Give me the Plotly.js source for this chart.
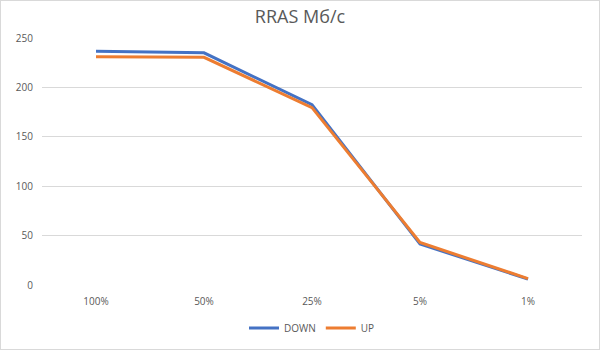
<!DOCTYPE html>
<html><head><meta charset="utf-8">
<script src="https://cdn.plot.ly/plotly-3.0.1.min.js"></script>
<style>html,body{margin:0;padding:0;background:#fff}#c{width:598px;height:348px;border:1px solid #d9d9d9}</style>
</head><body><div id="c"></div>
<script>
const categories = ["100%", "50%", "25%", "5%", "1%"];
const down = [236.5, 235, 182.5, 41.5, 6];
const up = [231, 230.5, 179.5, 43, 6.5];
const yTicks = [0, 50, 100, 150, 200, 250];

const traces = [
  {x: categories, y: down, name: "DOWN", type: "scatter", mode: "lines", line: {color: "#4472C4", width: 3}},
  {x: categories, y: up, name: "UP", type: "scatter", mode: "lines", line: {color: "#ED7D31", width: 3}}
];
const layout = {
  width: 598, height: 348,
  margin: {l: 41, r: 17, t: 37, b: 64, autoexpand: false},
  paper_bgcolor: "#fff", plot_bgcolor: "#fff",
  font: {family: "Open Sans, Liberation Sans, sans-serif", color: "#595959", size: 10},
  title: {text: "RRAS Мб/с", font: {size: 18, color: "#595959", family: "Open Sans, Liberation Sans, sans-serif"}, x: 0.5, xanchor: "center", y: 0.955, yanchor: "middle"},
  xaxis: {type: "category", range: [-0.5, 4.5], showgrid: false, showline: false, zeroline: false, ticks: "outside", ticklen: 7, tickcolor: "rgba(0,0,0,0)", tickfont: {size: 10, color: "#595959"}, automargin: false},
  yaxis: {range: [0, 250], tickvals: yTicks, gridcolor: "#d9d9d9", gridwidth: 1, zeroline: false, showline: false, ticks: "", tickfont: {size: 10, color: "#595959"}, ticklabelstandoff: 8, automargin: false},
  legend: {orientation: "h", x: 0.5, xanchor: "center", yref: "container", y: 0.06, yanchor: "middle", font: {size: 10, color: "#595959"}, itemwidth: 30},
  showlegend: true
};
Plotly.newPlot("c", traces, layout, {displayModeBar: false, staticPlot: true});
</script></body></html>
